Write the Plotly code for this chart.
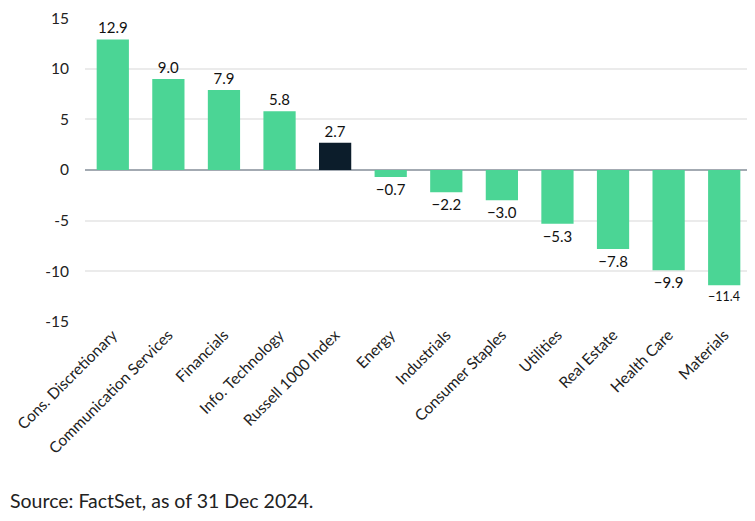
import plotly.graph_objects as go

categories = ["Cons. Discretionary", "Communication Services", "Financials",
              "Info. Technology", "Russell 1000 Index", "Energy", "Industrials",
              "Consumer Staples", "Utilities", "Real Estate", "Health Care", "Materials"]
values = [12.9, 9.0, 7.9, 5.8, 2.7, -0.7, -2.2, -3.0, -5.3, -7.8, -9.9, -11.4]
highlight = "Russell 1000 Index"
y_ticks = [15, 10, 5, 0, -5, -10, -15]

GREEN = "#4BD595"
DARK = "#0C1D2B"
colors = [DARK if c == highlight else GREEN for c in categories]
labels = [f"{v:.1f}".replace("-", "\u2212") for v in values]

FONT = "Lato, Noto Sans, sans-serif"

fig = go.Figure(go.Bar(
    x=categories, y=values, marker=dict(color=colors, line=dict(width=0)),
    text=labels, textposition="outside", cliponaxis=False,
    textfont=dict(size=15, color="#111111", family=FONT),
))

fig.update_layout(
    width=755, height=521,
    margin=dict(l=77, r=11, t=10, b=207, autoexpand=False),
    paper_bgcolor="white", plot_bgcolor="white",
    bargap=0.42, showlegend=False,
    font=dict(family=FONT, color="#222222"),
    xaxis=dict(tickangle=-45, tickfont=dict(size=15.5, color="#222222"),
               showgrid=False, ticks="", showline=False, automargin=False),
    yaxis=dict(range=[-15.02, 15.02], tickvals=y_ticks, ticktext=[str(t) for t in y_ticks],
               tickfont=dict(size=15.5, color="#222222"), showgrid=True,
               gridcolor="#ebebeb", gridwidth=2, zeroline=True, automargin=False,
               ticklabeloverflow="allow",
               zerolinecolor="#a3aab2", zerolinewidth=2, ticks="", ticklabelstandoff=15),
    annotations=[dict(text="Source: FactSet, as of 31 Dec 2024.", xref="paper", yref="paper",
                      x=-77/667, y=-178/304, xanchor="left", yanchor="middle",
                      showarrow=False, font=dict(size=19.5, color="#222222", family=FONT))],
)

fig.write_html("out.html")
